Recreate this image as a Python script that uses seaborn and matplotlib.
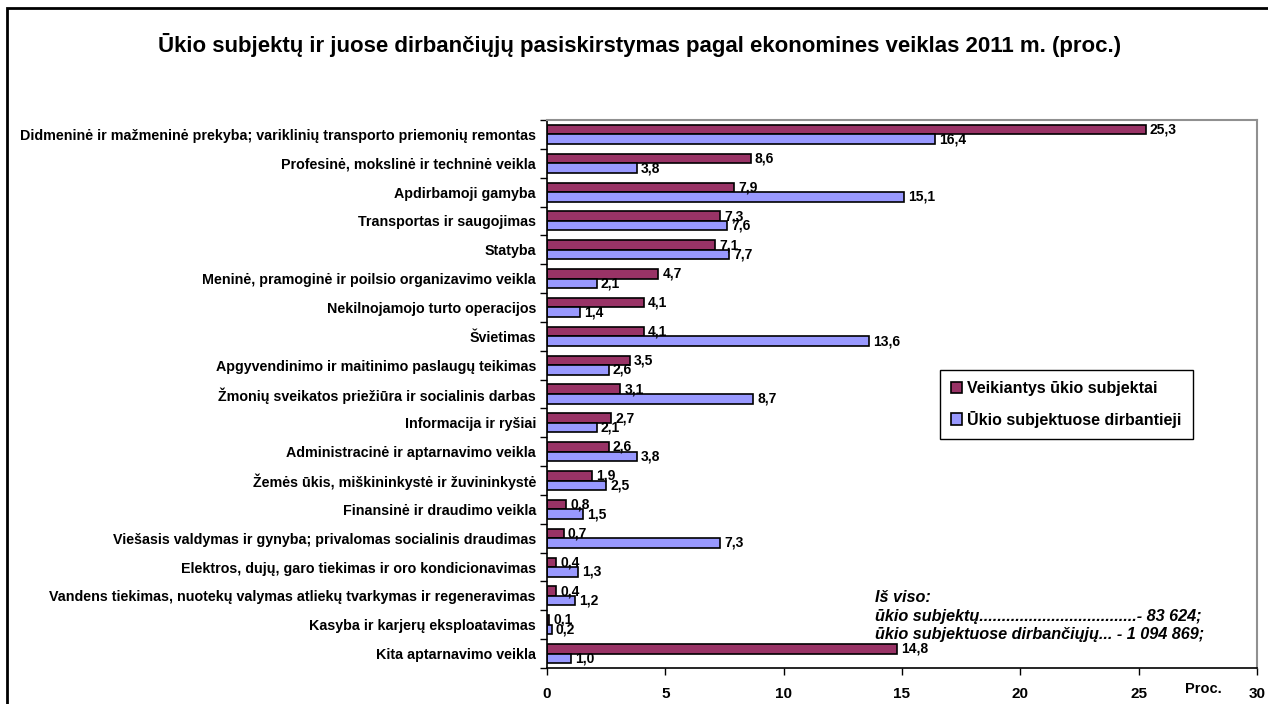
import numpy as np
import pandas as pd
import seaborn as sns
import matplotlib.pyplot as plt
from matplotlib.patches import Rectangle

categories = [
    "Didmeninė ir mažmeninė prekyba; variklinių transporto priemonių remontas",
    "Profesinė, mokslinė ir techninė veikla",
    "Apdirbamoji gamyba",
    "Transportas ir saugojimas",
    "Statyba",
    "Meninė, pramoginė ir poilsio organizavimo veikla",
    "Nekilnojamojo turto operacijos",
    "Švietimas",
    "Apgyvendinimo ir maitinimo paslaugų teikimas",
    "Žmonių sveikatos priežiūra ir socialinis darbas",
    "Informacija ir ryšiai",
    "Administracinė ir aptarnavimo veikla",
    "Žemės ūkis, miškininkystė ir žuvininkystė",
    "Finansinė ir draudimo veikla",
    "Viešasis valdymas ir gynyba; privalomas socialinis draudimas",
    "Elektros, dujų, garo tiekimas ir oro kondicionavimas",
    "Vandens tiekimas, nuotekų valymas atliekų tvarkymas ir regeneravimas",
    "Kasyba ir karjerų eksploatavimas",
    "Kita aptarnavimo veikla",
]
subjektai = [25.3, 8.6, 7.9, 7.3, 7.1, 4.7, 4.1, 4.1, 3.5, 3.1, 2.7, 2.6, 1.9, 0.8, 0.7, 0.4, 0.4, 0.1, 14.8]
dirbantieji = [16.4, 3.8, 15.1, 7.6, 7.7, 2.1, 1.4, 13.6, 2.6, 8.7, 2.1, 3.8, 2.5, 1.5, 7.3, 1.3, 1.2, 0.2, 1.0]
series = ["Veikiantys ūkio subjektai", "Ūkio subjektuose dirbantieji"]
xticks = [0, 5, 10, 15, 20, 25, 30]

df = pd.DataFrame({
    "veikla": categories * 2,
    "proc": subjektai + dirbantieji,
    "serija": [series[0]] * len(categories) + [series[1]] * len(categories),
})

sns.set_style("white")
plt.rcParams["font.family"] = ["Liberation Sans", "DejaVu Sans"]
plt.rcParams["text.color"] = "black"
plt.rcParams["xtick.color"] = "black"
plt.rcParams["ytick.color"] = "black"

W, H = 1268, 704
fig = plt.figure(figsize=(W / 100, H / 100), dpi=100)
ax = fig.add_axes([547 / W, 1 - 668 / H, (1257 - 547) / W, (668 - 120) / H])

sns.barplot(data=df, y="veikla", x="proc", hue="serija", orient="h",
            palette=["#993366", "#9999FF"], edgecolor="black", linewidth=1.2,
            width=0.66, saturation=1, ax=ax, legend=True)

for cont in ax.containers:
    labels = [f"{v:.1f}".replace(".", ",") for v in cont.datavalues]
    ax.bar_label(cont, labels=labels, padding=3, fontsize=10, fontweight="bold")

ax.set_xlim(0, 30)
ax.set_ylim(len(categories) - 0.5, -0.5)
ax.set_xticks(xticks)
ax.set_xticklabels([str(t) for t in xticks], fontsize=11, fontweight="bold")
ax.set_yticks(range(len(categories)))
ax.set_yticklabels(categories, fontsize=10.3, fontweight="bold")
ax.set_yticks(np.arange(-0.5, len(categories), 1), minor=True)
ax.tick_params(axis="y", which="major", length=0, pad=8)
ax.tick_params(axis="y", which="minor", length=5, width=1, color="black", direction="out", left=True)
ax.tick_params(axis="x", length=5, width=1, color="black", direction="out", bottom=True, pad=9)
ax.set_xlabel("")
ax.set_ylabel("")

for side in ["left", "bottom"]:
    ax.spines[side].set_color("black")
    ax.spines[side].set_linewidth(1.2)
for side in ["top", "right"]:
    ax.spines[side].set_color("#909090")
    ax.spines[side].set_linewidth(1.5)

handles, labs = ax.get_legend_handles_labels()
ax.legend(handles, labs, loc="upper left", bbox_to_anchor=(940 / W, 1 - 370 / H),
          bbox_transform=fig.transFigure, fancybox=False, shadow=False,
          edgecolor="black", framealpha=1, prop={"weight": "bold", "size": 11.5},
          handlelength=0.7, handleheight=0.7, handletextpad=0.3,
          labelspacing=0.9, borderpad=0.7, borderaxespad=0)

fig.text(640 / W, 1 - 45 / H,
         "Ūkio subjektų ir juose dirbančiųjų pasiskirstymas pagal ekonomines veiklas 2011 m. (proc.)",
         ha="center", va="center", fontsize=16, fontweight="bold")

fig.text(875 / W, 1 - 598 / H, "Iš viso:", fontsize=11.7, fontweight="bold",
         fontstyle="italic", va="center")
fig.text(875 / W, 1 - 616 / H, "ūkio subjektų...................................- 83 624;",
         fontsize=11.7, fontweight="bold", fontstyle="italic", va="center")
fig.text(875 / W, 1 - 634 / H, "ūkio subjektuose dirbančiųjų... - 1 094 869;",
         fontsize=11.7, fontweight="bold", fontstyle="italic", va="center")

fig.text(1203 / W, 1 - 689 / H, "Proc.", fontsize=10.5, fontweight="bold", va="center", ha="center")

fig.patches.append(Rectangle((7 / W, -0.1), 1.2, 1.1 - 8 / H, transform=fig.transFigure,
                             fill=False, edgecolor="black", linewidth=2))

fig.savefig("out.png", dpi=100)
